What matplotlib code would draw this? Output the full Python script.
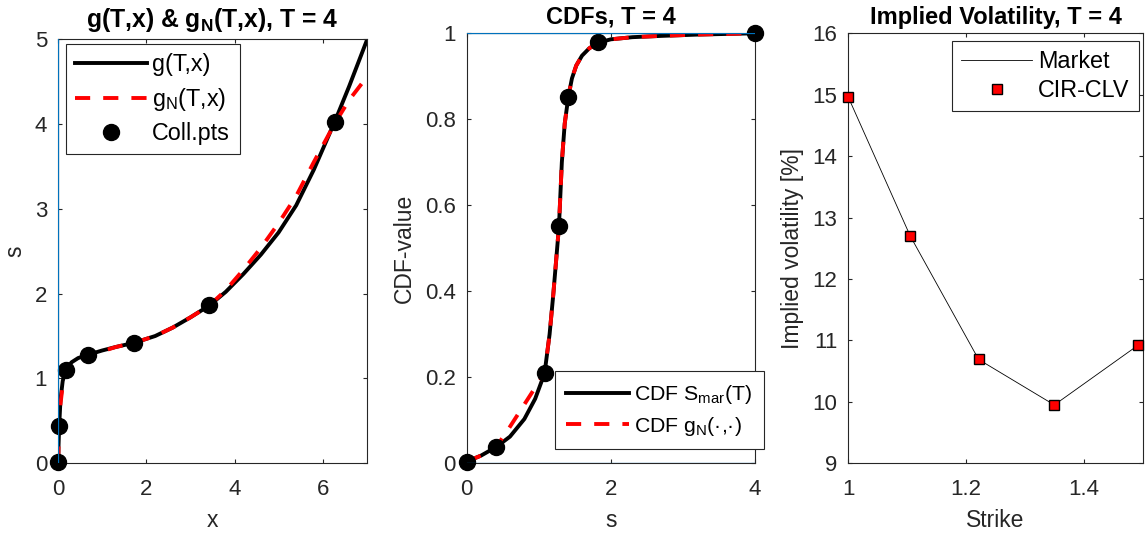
import matplotlib
matplotlib.use('Agg')
import matplotlib.pyplot as plt
from matplotlib.ticker import FixedLocator, FixedFormatter

plt.rcParams['font.family'] = ['Liberation Sans', 'DejaVu Sans']
plt.rcParams['mathtext.fontset'] = 'custom'
plt.rcParams['mathtext.rm'] = 'Liberation Sans'
plt.rcParams['mathtext.it'] = 'Liberation Sans:italic'
plt.rcParams['mathtext.bf'] = 'Liberation Sans:bold'

# ---------------- Panel 1: g(T,x) and g_N(T,x) ----------------
g_x = [0.0, 0.005, 0.02, 0.05, 0.1, 0.17, 0.3, 0.45, 0.68, 1.0, 1.3, 1.72,
       2.2, 2.6, 3.0, 3.43, 3.8, 4.2, 4.6, 5.0, 5.4, 5.8, 6.27, 6.6, 7.0]
g_s = [0.02, 0.2, 0.44, 0.75, 0.97, 1.10, 1.19, 1.24, 1.28, 1.33, 1.37, 1.42,
       1.50, 1.60, 1.72, 1.86, 2.02, 2.23, 2.46, 2.72, 3.04, 3.46, 4.02, 4.44, 4.98]
gN_x = [0.0, 0.005, 0.02, 0.05, 0.1, 0.17, 0.3, 0.45, 0.68, 1.0, 1.3, 1.72,
        2.2, 2.6, 3.0, 3.43, 3.8, 4.2, 4.6, 5.0, 5.4, 5.8, 6.27, 6.6, 7.0]
gN_s = [0.02, 0.2, 0.44, 0.70, 0.92, 1.10, 1.20, 1.25, 1.28, 1.32, 1.37, 1.42,
        1.50, 1.60, 1.72, 1.86, 2.04, 2.28, 2.54, 2.83, 3.15, 3.55, 4.0, 4.28, 4.55]
coll_x = [0.0, 0.02, 0.17, 0.68, 1.72, 3.43, 6.27]
coll_s = [0.02, 0.44, 1.10, 1.28, 1.42, 1.86, 4.02]

# ---------------- Panel 2: CDFs ----------------
cdf_s = [0.0, 0.2, 0.41, 0.6, 0.8, 0.95, 1.08, 1.15, 1.2, 1.25, 1.28, 1.32, 1.36,
         1.41, 1.46, 1.52, 1.6, 1.7, 1.82, 2.0, 2.3, 2.7, 3.2, 4.0]
cdf_mar = [0.004, 0.018, 0.038, 0.062, 0.103, 0.15, 0.209, 0.30, 0.39, 0.49, 0.551,
           0.70, 0.79, 0.852, 0.895, 0.925, 0.948, 0.965, 0.978, 0.986, 0.991,
           0.994, 0.997, 1.0]
cdfN_s = [0.0, 0.2, 0.41, 0.6, 0.8, 0.95, 1.08, 1.15, 1.2, 1.25, 1.28, 1.32, 1.36,
          1.41, 1.46, 1.52, 1.6, 1.7, 1.82, 2.0, 2.3, 2.7, 3.2, 4.0]
cdfN = [0.004, 0.018, 0.038, 0.085, 0.137, 0.176, 0.209, 0.30, 0.39, 0.49, 0.551,
        0.70, 0.79, 0.852, 0.895, 0.925, 0.948, 0.965, 0.978, 0.986, 0.991,
        0.994, 0.997, 1.0]
cdf_pts_s = [0.0, 0.41, 1.08, 1.28, 1.41, 1.82, 4.0]
cdf_pts = [0.004, 0.038, 0.209, 0.551, 0.852, 0.980, 1.0]

# ---------------- Panel 3: implied volatility ----------------
strikes = [1.0, 1.1052, 1.2214, 1.3499, 1.4918]
iv_market = [14.96, 12.70, 10.69, 9.95, 10.92]
iv_model = [14.96, 12.70, 10.69, 9.95, 10.92]

# ---------------- style ----------------
AX_COL = '#262626'
BLUE = '#0072BD'
TICK_FS = 16
LAB_FS = 16.5
TITLE_FS = 17
LEG_FS = 16.8
LW = 2.8
MS_DOT = 11.5
W, H = 1148, 539

fig = plt.figure(figsize=(W / 100, H / 100), dpi=100)


def px_axes(x0, y0, x1, y1):
    return fig.add_axes([x0 / W, 1 - y1 / H, (x1 - x0) / W, (y1 - y0) / H])


def style_axes(ax, xticks, xlabels, yticks, ylabels):
    for sp in ax.spines.values():
        sp.set_color(AX_COL)
        sp.set_linewidth(0.8)
    ax.xaxis.set_major_locator(FixedLocator(xticks))
    ax.xaxis.set_major_formatter(FixedFormatter(xlabels))
    ax.yaxis.set_major_locator(FixedLocator(yticks))
    ax.yaxis.set_major_formatter(FixedFormatter(ylabels))
    ax.tick_params(direction='in', top=True, right=True, length=3.2, width=0.8,
                   colors=AX_COL, labelsize=TICK_FS)
    ax.tick_params(axis='x', pad=11)
    ax.tick_params(axis='y', pad=8)


def style_legend(leg):
    fr = leg.get_frame()
    fr.set_edgecolor(AX_COL)
    fr.set_linewidth(0.8)
    fr.set_facecolor('white')
    fr.set_alpha(1)


def leg_kw(fs=LEG_FS, spacing=0.25, hl=3.05, bp=0.4):
    return dict(fontsize=fs, fancybox=False, framealpha=1, borderaxespad=0,
                handlelength=hl, handletextpad=0.25, borderpad=bp,
                labelspacing=spacing, numpoints=1)


dash = (0, (3.9, 3.35))

# Panel 1
ax1 = px_axes(58.3, 39, 366.7, 463.3)
ax1.plot(g_x, g_s, color='black', lw=LW, label='g(T,x)', zorder=2)
ax1.plot(gN_x, gN_s, color='red', lw=LW, ls=dash, label=r'g$_{\mathrm{N}}$(T,x)', zorder=3)
ax1.plot(coll_x, coll_s, ls='none', marker='o', ms=MS_DOT, color='black',
         label='Coll.pts', zorder=4, clip_on=False)
ax1.axvline(0, color=BLUE, lw=0.9, zorder=6)
ax1.set_xlim(0, 7)
ax1.set_ylim(0, 5)
style_axes(ax1, [0, 2, 4, 6], ['0', '2', '4', '6'], [0, 1, 2, 3, 4, 5],
           ['0', '1', '2', '3', '4', '5'])
ax1.set_xlabel('x', fontsize=LAB_FS, color=AX_COL)
ax1.set_ylabel('s', fontsize=LAB_FS, color=AX_COL)
ax1.xaxis.set_label_coords(0.5, -0.108)
ax1.yaxis.set_label_coords(-0.105, 0.5)
ax1.set_title(r'g(T,x) & g$_{\mathbf{N}}$(T,x), T = 4', fontsize=TITLE_FS + 0.8,
              fontweight='bold', pad=9)
leg1 = ax1.legend(loc='upper left', bbox_to_anchor=(66 / W, 1 - 44 / H),
                  bbox_transform=fig.transFigure, **leg_kw(spacing=0.4))
style_legend(leg1)

# Panel 2
ax2 = px_axes(466.7, 33.3, 755, 463.3)
ax2.plot(cdf_s, cdf_mar, color='black', lw=LW, label=r'CDF S$_{\mathrm{mar}}$(T)', zorder=2)
ax2.plot(cdfN_s, cdfN, color='red', lw=LW, ls=dash,
         label='CDF g$_{\\mathrm{N}}$(\u00b7,\u00b7)', zorder=3)
ax2.plot(cdf_pts_s, cdf_pts, ls='none', marker='o', ms=MS_DOT, color='black',
         zorder=4, clip_on=False)
ax2.axhline(0, color=BLUE, lw=0.9, zorder=6)
ax2.axhline(1, color=BLUE, lw=0.9, zorder=6)
ax2.set_xlim(0, 4)
ax2.set_ylim(0, 1)
style_axes(ax2, [0, 2, 4], ['0', '2', '4'], [0, 0.2, 0.4, 0.6, 0.8, 1.0],
           ['0', '0.2', '0.4', '0.6', '0.8', '1'])
ax2.set_xlabel('s', fontsize=LAB_FS, color=AX_COL)
ax2.set_ylabel('CDF-value', fontsize=LAB_FS, color=AX_COL)
ax2.xaxis.set_label_coords(0.5, -0.107)
ax2.yaxis.set_label_coords(-0.177, 0.5)
ax2.set_title('CDFs, T = 4', fontsize=TITLE_FS, fontweight='bold', pad=7)
leg2 = ax2.legend(loc='lower right', bbox_to_anchor=(764 / W, 1 - 449.3 / H),
                  bbox_transform=fig.transFigure,
                  **leg_kw(fs=15.3, spacing=0.4, hl=2.95, bp=0.55))
style_legend(leg2)

# Panel 3
ax3 = px_axes(848.3, 33.3, 1142.7, 463.3)
ax3.plot(strikes, iv_market, color='black', lw=0.6, label='Market', zorder=2)
ax3.plot(strikes, iv_model, ls='none', marker='s', ms=7.6, mfc='red', mec='black',
         mew=1.0, label='CIR-CLV', zorder=3, clip_on=False)
ax3.set_xlim(1, 1.5)
ax3.set_ylim(9, 16)
style_axes(ax3, [1, 1.2, 1.4], ['1', '1.2', '1.4'], list(range(9, 17)),
           [str(v) for v in range(9, 17)])
ax3.set_xlabel('Strike', fontsize=LAB_FS, color=AX_COL)
ax3.set_ylabel('Implied volatility [%]', fontsize=LAB_FS, color=AX_COL)
ax3.xaxis.set_label_coords(0.5, -0.107)
ax3.yaxis.set_label_coords(-0.15, 0.5)
ax3.set_title('Implied Volatility, T = 4', fontsize=TITLE_FS, fontweight='bold', pad=7)
leg3 = ax3.legend(loc='upper right', bbox_to_anchor=(1139 / W, 1 - 40.7 / H),
                  bbox_transform=fig.transFigure, **leg_kw(spacing=0.25))
style_legend(leg3)

fig.savefig('out.png', dpi=100)
